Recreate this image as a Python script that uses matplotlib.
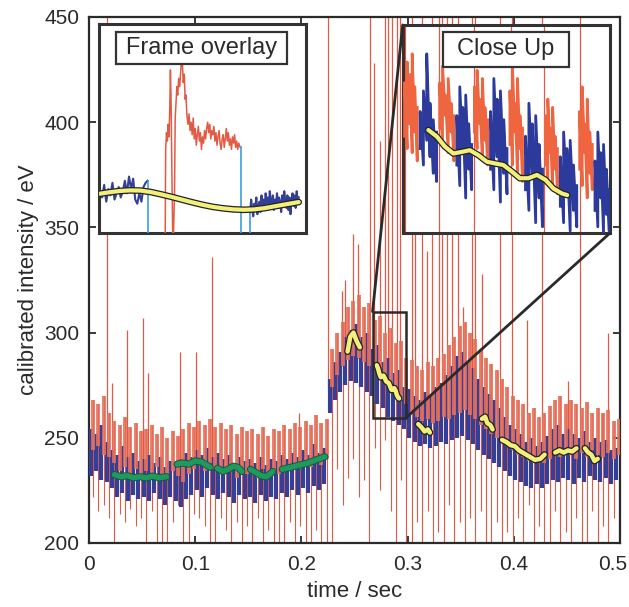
import numpy as np
import matplotlib
matplotlib.use("Agg")
import matplotlib.pyplot as plt
import matplotlib.patheffects as pe
import matplotlib.transforms as mtransforms
from matplotlib.patches import Rectangle, ConnectionPatch

plt.rcParams['font.family'] = ['Liberation Sans', 'DejaVu Sans']

# ---------------- data ----------------
frame_period = 0.005          # one red + one blue frame per cycle

# per-cycle envelope of the main trace (eV)
red_top = [268, 266, 270, 262,
           258, 256, 260, 255, 257, 253,
           254, 256, 252, 255, 250, 253, 251, 254, 257, 255,
           258, 256, 259, 255, 257, 254, 256, 252, 255, 253,
           254, 252, 255, 251, 254, 253, 256, 254, 257, 255,
           258, 256, 261, 257, 259,
           292, 300, 305, 312, 315,
           318, 312, 314, 306, 308,
           300, 302, 295, 296, 288,
           287, 284, 282, 286, 284,
           288, 290, 294, 298, 303,
           305, 300, 297, 292, 288,
           285, 282, 278, 274, 270,
           268, 266, 262, 264, 260,
           262, 265, 268, 270, 266,
           268, 266, 264, 267, 262,
           264, 262, 263, 258, 259]
blue_bot = [232, 234, 230, 229,
            226, 222, 224, 220, 223, 221,
            222, 220, 224, 221, 218, 222, 220, 217, 221, 223,
            225, 222, 226, 223, 221, 224, 222, 219, 223, 221,
            222, 219, 223, 220, 222, 221, 224, 222, 225, 223,
            226, 224, 227, 225, 228,
            262, 268, 272, 275, 277,
            276, 274, 272, 270, 266,
            264, 260, 258, 256, 254,
            250, 248, 246, 247, 245,
            246, 248, 247, 249, 250,
            251, 249, 247, 244, 242,
            240, 238, 236, 234, 232,
            230, 229, 227, 226, 228,
            226, 228, 230, 229, 231,
            230, 228, 231, 229, 232,
            230, 229, 231, 228, 230]
# lower end of the thin red transition line in every cycle (195 = below axis)
red_dip = [222, 215, 218, 212, 195, 214, 210, 216, 208, 212,
           195, 215, 195, 195, 195, 210, 218, 195, 195, 214,
           212, 208, 195, 195, 212, 206, 195, 210, 195, 208,
           195, 212, 195, 206, 195, 195, 195, 210, 195, 208,
           195, 195, 206, 195, 195,
           195, 235, 218, 231, 240, 222, 230, 195, 245, 225,
           249, 215, 195, 230, 195, 195, 210, 195, 215, 195,
           205, 195, 218, 195, 210, 195, 212, 195, 215, 195,
           195, 210, 195, 205, 195, 212, 195, 218, 195, 208,
           195, 195, 215, 195, 205, 195, 212, 195, 195, 215,
           195, 208, 195, 212, 195]

# upward red spikes (time, top value; 460 = beyond the top)
spike_t = [0.017, 0.022, 0.036, 0.051, 0.056, 0.086, 0.101, 0.116, 0.198,
           0.225, 0.238, 0.241, 0.249, 0.253, 0.2645, 0.268, 0.274, 0.279,
           0.2815, 0.285, 0.290, 0.293,
           0.304, 0.307, 0.3135, 0.318, 0.323, 0.330, 0.332, 0.337, 0.342,
           0.3475, 0.352, 0.3605, 0.363, 0.3705, 0.387, 0.398, 0.412, 0.427,
           0.451, 0.462, 0.483, 0.489]
spike_top = [460, 276, 301, 307, 281, 291, 291, 336, 262,
             460, 320, 325, 347, 342, 460, 428, 391, 460,
             460, 460, 460, 460,
             460, 420, 460, 339, 460, 460, 460, 460, 460,
             460, 312, 460, 460, 328, 460, 460, 306, 460,
             277, 460, 262, 300]

# smoothed segments (green: first part, yellow: after the jump)
green_t = [[0.024, 0.030, 0.036, 0.042, 0.048, 0.054, 0.060, 0.066, 0.073],
           [0.083, 0.088, 0.094, 0.100, 0.106, 0.111, 0.114],
           [0.121, 0.126, 0.131, 0.136, 0.140, 0.144],
           [0.152, 0.157, 0.162, 0.167, 0.171, 0.173],
           [0.182, 0.190, 0.198, 0.206, 0.214, 0.222]]
green_v = [[232.5, 231.5, 232, 231, 231.5, 231, 231.8, 231, 231.5],
           [237.5, 238, 237.5, 239, 238.5, 237, 236],
           [235.5, 234, 235, 236.5, 236, 234],
           [235, 233.5, 232, 231.5, 233, 234],
           [235, 236, 237, 238, 239.5, 241]]

closeup_yel_t = [0.2709, 0.2722, 0.2734, 0.2747, 0.2760, 0.2772, 0.2785, 0.2798,
                 0.2810, 0.2823, 0.2836, 0.2848, 0.2861, 0.2874, 0.2887, 0.2899,
                 0.2912, 0.2920]
closeup_yel_v = [284.5, 282.9, 280.5, 278.8, 279.2, 279.6, 278.4, 276.8,
                 276.4, 276.0, 274.4, 272.8, 272.8, 273.6, 272.4, 270.3,
                 269.1, 268.7]

yellow_t = [[0.2435, 0.246, 0.249, 0.252, 0.255],
            closeup_yel_t,
            [0.310, 0.313, 0.316, 0.319, 0.321],
            [0.370, 0.373, 0.375, 0.378, 0.380],
            [0.389, 0.393, 0.397, 0.401, 0.405, 0.410, 0.415, 0.420, 0.425, 0.429],
            [0.439, 0.443, 0.447, 0.451, 0.455, 0.459],
            [0.467, 0.470, 0.473, 0.476, 0.479]]
yellow_v = [[291, 298, 300, 296, 293],
            closeup_yel_v,
            [256.5, 255, 253, 254, 252.5],
            [259, 260, 257, 256, 254],
            [249, 248, 246.5, 246, 244, 242.5, 241, 239.5, 240, 242],
            [243, 244, 243, 244, 243.5, 245],
            [245, 243, 242, 239, 240]]

# zoom window shown in the "Close Up" inset
zoom_t = (0.267, 0.2985)
zoom_v = (259.5, 310.0)

# close-up: frame start times, colours and samples
cu_start = [0.2671, 0.2694, 0.2724, 0.2750, 0.2777, 0.2801,
            0.2831, 0.2854, 0.2885, 0.2907, 0.2937, 0.2960, 0.2986]
cu_kind = ['r', 'b', 'r', 'b', 'r', 'b', 'r', 'b', 'r', 'b', 'r', 'b']
cu_vals = [[283, 296, 280, 301, 286, 298, 279, 303, 284, 295, 277, 290],
           [280, 289, 276, 294, 282, 303, 278, 291, 274, 287, 272, 284],
           [285, 296, 281, 300, 288, 293, 279, 297, 284, 291, 277, 288],
           [276, 288, 271, 295, 279, 290, 268, 293, 275, 286, 270, 281],
           [284, 295, 280, 299, 286, 292, 278, 297, 282, 290, 276, 287],
           [275, 289, 270, 297, 278, 292, 267, 294, 274, 287, 269, 280],
           [281, 294, 276, 300, 284, 291, 274, 297, 280, 288, 272, 285],
           [270, 283, 265, 291, 273, 286, 262, 288, 268, 281, 261, 275],
           [276, 288, 272, 292, 279, 285, 270, 290, 275, 283, 269, 280],
           [266, 278, 262, 284, 269, 280, 260, 282, 265, 276, 261, 271],
           [275, 289, 271, 295, 279, 286, 268, 292, 274, 284, 270, 281],
           [265, 277, 261, 284, 268, 279, 259.5, 281, 264, 275, 260, 270]]
cu_spikes = [0.2673, 0.2725, 0.2779, 0.2834, 0.2884, 0.2939]

# frame overlay inset (arbitrary units 0..100)
ov_blue1_x = [0.5, 1.5, 2.5, 3.5, 4.5, 5.5, 6.5, 7.5, 8.5, 9.5, 10.5, 11.5,
              12.5, 13.5, 14.5, 15.5, 16.5, 17.5, 18.5, 19.5, 20.5, 21.5, 22.5, 23.5]
ov_blue1_y = [20, 17, 23, 15, 21, 18, 24, 16, 19, 22, 17, 20,
              25, 19, 27, 21, 26, 16, 14, 19, 15, 22, 24, 25]
ov_red_x = [32.0, 32.2, 32.6, 33.0, 33.4, 33.8, 34.2, 34.5, 34.8, 35.2, 35.6, 36.0,
            36.5, 36.8, 37.2, 37.6, 38.0, 38.5, 39.0, 39.5, 40.0, 40.3, 40.7, 41.2,
            41.6, 42.0, 42.5, 43.0, 43.5, 44, 44.5, 45, 45.5, 46, 46.5, 47, 47.5,
            48, 48.5, 49, 49.5, 50, 50.5, 51, 51.5, 52, 52.5, 53, 53.5, 54, 54.5,
            55, 55.5, 56, 56.5, 57, 57.5, 58, 58.5, 59, 59.5, 60, 60.5, 61, 61.5,
            62, 62.5, 63, 63.5, 64, 64.5, 65, 65.5, 66, 66.5, 67, 67.5, 68.2]
ov_red_y = [0, 40, 48, 44, 52, 46, 60, 78, 65, 30, 0, 0,
            20, 55, 62, 70, 66, 74, 70, 78, 85, 81, 72, 76,
            64, 66, 56, 52, 57, 49, 53, 47, 55, 45, 50, 42, 47,
            51, 44, 48, 40, 46, 43, 49, 45, 50, 53, 48, 52, 45, 49,
            47, 51, 44, 48, 42, 46, 49, 43, 40, 45, 47, 41, 45, 50,
            44, 48, 42, 45, 40, 46, 43, 47, 41, 44, 40, 43, 41]
ov_blue2_x = [73, 73.5, 74, 74.5, 75, 75.5, 76, 76.5, 77, 77.5, 78, 78.5, 79, 79.5,
              80, 80.5, 81, 81.5, 82, 82.5, 83, 83.5, 84, 84.5, 85, 85.5, 86, 86.5,
              87, 87.5, 88, 88.5, 89, 89.5, 90, 90.5, 91, 91.5, 92, 92.5, 93, 93.5,
              94, 94.5, 95, 95.5, 96, 96.5]
ov_blue2_y = [10, 16, 12, 8, 14, 11, 17, 9, 13, 15, 10, 18, 12, 16,
              11, 19, 14, 17, 12, 20, 15, 13, 18, 11, 16, 14, 19, 12,
              17, 15, 10, 18, 13, 20, 15, 12, 18, 11, 17, 9, 16, 19,
              13, 18, 12, 20, 15, 17]
ov_fit_x = [0.5, 5, 10, 15, 20, 25, 30, 35, 40, 45, 50, 55, 60, 65, 70, 75, 80, 85, 90, 96.5]
ov_fit_y = [18.8, 19.5, 20.1, 20.4, 20.3, 19.6, 18.5, 17.3, 16.0, 14.7, 13.5, 12.5,
            11.8, 11.3, 11.1, 11.3, 11.9, 12.8, 13.7, 14.8]

# ---------------- styles ----------------
RED = '#e6705a'
RED_THIN = '#e25a44'
BLUE = '#343f98'
LBLUE = '#3b9de0'
DARK = '#2a2a2a'
GREEN = '#1f9a5f'
YELLOW = '#f3f07a'

W, H = 629, 607
fig = plt.figure(figsize=(W / 100, H / 100), dpi=100)
ax = fig.add_axes([89 / W, (H - 543) / H, 531 / W, 526 / H])
ax.set_xlim(0, 0.5)
ax.set_ylim(200, 450)

n = min(len(red_top), len(blue_bot), len(red_dip))
rt = np.array(red_top[:n], float)
bb = np.array(blue_bot[:n], float)
dp = np.array(red_dip[:n], float)
starts = np.arange(n) * frame_period
blue_x = starts + 0.3 * frame_period
red_x = starts + 0.78 * frame_period

ax.vlines(red_x, dp, rt, color=RED_THIN, lw=0.8, zorder=2)
ax.vlines(blue_x, bb, rt - 14, color=BLUE, lw=3.0, zorder=3)
ax.vlines(red_x, bb + 12, rt, color=RED, lw=2.8, alpha=0.9, zorder=3)

for t, top in zip(spike_t, spike_top):
    k = min(int(t / frame_period), n - 1)
    ax.vlines(t, bb[k] + 12, top, color=RED_THIN, lw=0.9, zorder=2)

for tt, vv in zip(green_t, green_v):
    ax.plot(tt, vv, color=GREEN, lw=3.8, solid_capstyle='round', zorder=5,
            path_effects=[pe.Stroke(linewidth=5.2, foreground='#145a3a'), pe.Normal()])
for tt, vv in zip(yellow_t, yellow_v):
    ax.plot(tt, vv, color=YELLOW, lw=3.2, solid_capstyle='round', zorder=5,
            path_effects=[pe.Stroke(linewidth=5.0, foreground='#222222'), pe.Normal()])

ax.add_patch(Rectangle((zoom_t[0], zoom_v[0]), zoom_t[1] - zoom_t[0], zoom_v[1] - zoom_v[0],
                       fill=False, ec=DARK, lw=1.8, zorder=6))

ax.set_xticks([0, 0.1, 0.2, 0.3, 0.4, 0.5])
ax.set_xticklabels(['0', '0.1', '0.2', '0.3', '0.4', '0.5'])
ax.set_yticks([200, 250, 300, 350, 400, 450])
ax.tick_params(direction='in', top=True, right=True, length=5, width=1.3,
               labelsize=15, colors=DARK)
ax.tick_params(axis='x', pad=9)
ax.tick_params(axis='y', pad=7)
for s in ax.spines.values():
    s.set_linewidth(1.6)
    s.set_color(DARK)
ax.set_xlabel('time / sec', fontsize=16, color=DARK, labelpad=5)
ax.set_ylabel('calibrated intensity / eV', fontsize=16, color=DARK, labelpad=4)
# keep the last x tick label inside the canvas
last = ax.get_xticklabels()[-1]
last.set_transform(last.get_transform() +
                   mtransforms.ScaledTranslation(-7 / 100, 0, fig.dpi_scale_trans))

# ---------------- Frame overlay inset ----------------
ins1 = fig.add_axes([99 / W, (H - 233) / H, 207 / W, 209 / H])
ins1.set_xlim(0, 100)
ins1.set_ylim(0, 100)
ins1.set_xticks([])
ins1.set_yticks([])
for s in ins1.spines.values():
    s.set_linewidth(2.2)
    s.set_color('#333333')
ins1.plot(ov_blue1_x, ov_blue1_y, color=BLUE, lw=1.5, zorder=3)
ins1.plot([ov_blue1_x[-1], ov_blue1_x[-1]], [ov_blue1_y[-1], 0], color=LBLUE, lw=1.2, zorder=3)
ins1.plot(ov_red_x, ov_red_y, color=RED_THIN, lw=1.1, zorder=3)
ins1.plot([ov_red_x[-1] + 0.3, ov_red_x[-1] + 0.3], [ov_red_y[-1], 0], color=LBLUE, lw=1.2, zorder=3)
ins1.plot([ov_blue2_x[0], ov_blue2_x[0]], [0, ov_blue2_y[0]], color=LBLUE, lw=1.2, zorder=3)
ins1.plot(ov_blue2_x, ov_blue2_y, color=BLUE, lw=1.5, zorder=3)
ins1.plot(ov_fit_x, ov_fit_y, color=YELLOW, lw=3.0, zorder=4, solid_capstyle='round',
          path_effects=[pe.Stroke(linewidth=4.8, foreground='#222222'), pe.Normal()])
ins1.add_patch(Rectangle((0.082, 0.809), 0.826, 0.153, transform=ins1.transAxes,
                         facecolor='white', edgecolor='#333333', lw=1.6, zorder=8))
ins1.text(0.495, 0.885, 'Frame overlay', transform=ins1.transAxes, ha='center',
          va='center', fontsize=17, color=DARK, zorder=9)

# ---------------- Close Up inset ----------------
ins2 = fig.add_axes([402.7 / W, (H - 233) / H, 207.3 / W, 208 / H])
ins2.set_xlim(*zoom_t)
ins2.set_ylim(*zoom_v)
ins2.set_xticks([])
ins2.set_yticks([])
for s in ins2.spines.values():
    s.set_linewidth(2.2)
    s.set_color('#333333')
for t in cu_spikes:
    ins2.axvline(t, color=RED_THIN, lw=0.9, zorder=2)
for i, vals in enumerate(cu_vals):
    t0, t1 = cu_start[i], cu_start[i + 1]
    m = len(vals)
    # draw samples as vertical strokes: pairs of samples share one x position
    xs = t0 + (np.arange(m) // 2 + 0.5) / ((m + 1) // 2) * (t1 - t0)
    col = '#ee6540' if cu_kind[i] == 'r' else '#2c3a9c'
    ins2.plot(xs, vals, color=col, lw=2.0, zorder=3)
ins2.plot(closeup_yel_t, closeup_yel_v, color=YELLOW, lw=3.0, zorder=5, solid_capstyle='round',
          path_effects=[pe.Stroke(linewidth=4.8, foreground='#222222'), pe.Normal()])
ins2.add_patch(Rectangle((0.193, 0.80), 0.609, 0.168, transform=ins2.transAxes,
                         facecolor='white', edgecolor='#333333', lw=1.6, zorder=8))
ins2.text(0.497, 0.884, 'Close Up', transform=ins2.transAxes, ha='center',
          va='center', fontsize=17, color=DARK, zorder=9)

con1 = ConnectionPatch(xyA=(zoom_t[0], zoom_v[1]), coordsA=ax.transData,
                       xyB=(0, 1), coordsB=ins2.transAxes, color=DARK, lw=2.0)
con2 = ConnectionPatch(xyA=(zoom_t[1], zoom_v[0]), coordsA=ax.transData,
                       xyB=(1, 0), coordsB=ins2.transAxes, color=DARK, lw=2.0)
fig.add_artist(con1)
fig.add_artist(con2)

fig.savefig('out.png', dpi=100, facecolor='white')
